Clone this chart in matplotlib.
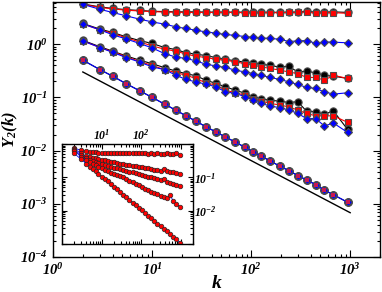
import numpy as np
import matplotlib
matplotlib.use('Agg')
import matplotlib.pyplot as plt
from matplotlib.ticker import FuncFormatter, LogLocator, NullFormatter

plt.rcParams['mathtext.fontset'] = 'custom'
plt.rcParams['mathtext.bf'] = 'Liberation Serif:bold:italic'
plt.rcParams['mathtext.rm'] = 'Liberation Serif:bold:italic'
plt.rcParams['mathtext.it'] = 'Liberation Serif:bold:italic'
plt.rcParams['font.family'] = 'Liberation Serif'

# main panel data
k = [2, 3, 4, 5.5, 7.5, 10, 13.5, 17.5, 22, 27.5, 35, 44, 55, 69, 87, 105,
     126, 155, 195, 240, 295, 363, 447, 550, 676, 940]

g1_black = [5.7, 5.0, 4.7, 4.45, 4.3, 4.15, 4.1, 4.05, 4.05, 4.05, 4.0, 4.0, 4.0,
            4.0, 4.0, 4.0, 3.95, 4.0, 3.95, 4.0, 4.0, 4.15, 4.0, 4.0, 4.05, 3.95]
g1_red = [5.6, 4.9, 4.6, 4.35, 4.2, 4.1, 4.0, 4.0, 3.95, 3.95, 3.95, 3.95, 3.95,
          3.95, 3.9, 3.9, 3.9, 3.9, 3.9, 3.95, 3.95, 4.05, 3.8, 3.9, 3.9, 3.8]
g1_blue = [5.6, 4.5, 3.94, 3.4, 2.95, 2.62, 2.37, 2.11, 1.97, 1.83, 1.70, 1.61, 1.52,
           1.46, 1.39, 1.34, 1.31, 1.28, 1.24, 1.12, 1.15, 1.17, 1.04, 1.10, 1.09, 1.06]

g2_black = [2.45, 1.91, 1.66, 1.37, 1.17, 1.03, 0.86, 0.79, 0.69, 0.65, 0.61, 0.56, 0.52,
            0.486, 0.46, 0.446, 0.42, 0.40, 0.37, 0.386, 0.30, 0.31, 0.29, 0.26, 0.25, 0.227]
g2_red = [2.4, 1.85, 1.6, 1.31, 1.1, 0.93, 0.8, 0.74, 0.65, 0.595, 0.56, 0.52, 0.50,
          0.466, 0.43, 0.40, 0.375, 0.35, 0.325, 0.30, 0.28, 0.237, 0.237, 0.21, 0.26, 0.227]
g2_blue = [2.4, 1.85, 1.5, 1.25, 1.03, 0.85, 0.66, 0.57, 0.54, 0.486, 0.42, 0.39, 0.365,
           0.325, 0.30, 0.28, 0.26, 0.237, 0.217, 0.196, 0.175, 0.154, 0.147, 0.127, 0.115, 0.122]

g3_black = [1.18, 0.89, 0.74, 0.60, 0.50, 0.43, 0.36, 0.31, 0.28, 0.255, 0.211, 0.183, 0.158,
            0.137, 0.119, 0.103, 0.095, 0.088, 0.085, 0.08, 0.083, 0.055, 0.054, 0.048, 0.056, 0.025]
g3_red = [1.15, 0.86, 0.72, 0.58, 0.47, 0.40, 0.33, 0.29, 0.262, 0.227, 0.188, 0.17, 0.137,
          0.122, 0.11, 0.095, 0.086, 0.077, 0.072, 0.066, 0.058, 0.05, 0.045, 0.045, 0.045, 0.034]
g3_blue = [1.15, 0.86, 0.70, 0.56, 0.46, 0.375, 0.33, 0.26, 0.217, 0.196, 0.177, 0.158, 0.127,
           0.119, 0.103, 0.089, 0.077, 0.069, 0.064, 0.058, 0.05, 0.04, 0.04, 0.029, 0.033, 0.022]

g4 = [0.50, 0.33, 0.25, 0.18, 0.133, 0.10, 0.074, 0.057, 0.045, 0.036, 0.028, 0.0225, 0.018,
      0.0145, 0.0115, 0.0095, 0.0079, 0.0064, 0.0051, 0.0042, 0.0034, 0.0028, 0.0023,
      0.0018, 0.00148, 0.00107]

ref_k = [2, 1000]
ref_y = [0.3, 0.00068]

# inset data
ik = [2, 3, 4, 5, 6, 7, 8, 10, 12, 14, 17, 20, 24, 29, 35, 42, 50, 60, 72, 86, 103,
      124, 148, 178, 213, 256, 307, 368, 442, 530, 636, 763, 960]
c1 = [0.75, 0.65, 0.60, 0.58, 0.57, 0.56, 0.555, 0.55, 0.545, 0.545, 0.54, 0.54, 0.535,
      0.535, 0.53, 0.53, 0.53, 0.525, 0.52, 0.53, 0.52, 0.52, 0.515, 0.52, 0.51, 0.52,
      0.5, 0.51, 0.53, 0.5, 0.51, 0.52, 0.48]
c2 = [0.72, 0.52, 0.44, 0.41, 0.39, 0.37, 0.355, 0.335, 0.32, 0.31, 0.295, 0.285, 0.27,
      0.26, 0.25, 0.24, 0.23, 0.22, 0.215, 0.205, 0.2, 0.19, 0.185, 0.175, 0.17, 0.165,
      0.16, 0.175, 0.15, 0.145, 0.14, 0.135, 0.125]
c3 = [0.68, 0.46, 0.38, 0.34, 0.31, 0.29, 0.275, 0.25, 0.235, 0.22, 0.205, 0.195, 0.185,
      0.177, 0.167, 0.157, 0.149, 0.141, 0.133, 0.126, 0.119, 0.112, 0.105, 0.099, 0.094,
      0.088, 0.083, 0.09, 0.072, 0.068, 0.063, 0.058, 0.055]
c4 = [0.62, 0.42, 0.33, 0.28, 0.25, 0.23, 0.21, 0.185, 0.165, 0.15, 0.135, 0.125, 0.115,
      0.11, 0.1, 0.09, 0.08, 0.072, 0.064, 0.057, 0.051, 0.046, 0.041, 0.037, 0.034,
      0.031, 0.028, 0.026, 0.024, 0.03, 0.02, 0.016, 0.013]
c5 = [0.52, 0.35, 0.26, 0.21, 0.175, 0.15, 0.13, 0.105, 0.088, 0.075, 0.062, 0.052, 0.044,
      0.036, 0.030, 0.025, 0.021, 0.0175, 0.0146, 0.0122, 0.0102, 0.0085, 0.0071, 0.0059,
      0.0049, 0.0041, 0.0034, 0.0029, 0.0024, 0.0020, 0.00165, 0.00138, 0.0011]


def pow10(v, pos):
    return r'$\mathbf{10^{%d}}$' % int(round(np.log10(v)))


def style_log_axis(ax, size):
    for axis in (ax.xaxis, ax.yaxis):
        axis.set_major_locator(LogLocator(base=10, numticks=20))
        axis.set_minor_locator(LogLocator(base=10, subs=np.arange(2, 10), numticks=20))
        axis.set_minor_formatter(NullFormatter())
    ax.tick_params(which='both', direction='in', top=True, right=True, width=0.8)
    ax.tick_params(which='major', length=5, labelsize=size)
    ax.tick_params(which='minor', length=2.5)
    for s in ax.spines.values():
        s.set_linewidth(1.0)


fig = plt.figure(figsize=(3.82, 2.92), dpi=100)
ax = fig.add_axes([53 / 382, 35 / 292, 327 / 382, 255 / 292])

ax.set_xscale('log')
ax.set_yscale('log')

mk = dict(mew=0.8, mec='0.3', lw=0.8)
for blk, red, blu in [(g1_black, g1_red, g1_blue), (g2_black, g2_red, g2_blue),
                      (g3_black, g3_red, g3_blue)]:
    ax.plot(k, blk, '-o', color='black', ms=5.2, **mk)
    ax.plot(k, red, '-s', color='red', ms=4.2, **mk)
    ax.plot(k, blu, '-D', color='blue', ms=3.8, **mk)

# bottom group: all three sets coincide
ax.plot(k, g4, '-o', color='black', ms=5.6, **mk)
ax.plot(k, g4, '-D', color='blue', ms=3.6, **mk)
ax.plot(k, g4, 's', color='#c81850', ms=3.2, mew=0)

ax.plot(ref_k, ref_y, color='black', lw=1.0)

ax.set_xlim(1, 2000)
ax.set_ylim(1e-4, 6.2)
style_log_axis(ax, 10.5)
ax.xaxis.set_major_formatter(FuncFormatter(pow10))
ax.yaxis.set_major_formatter(FuncFormatter(pow10))
ax.set_xlabel('k', fontsize=14, fontweight='bold', fontstyle='italic', labelpad=-2)
ax.set_ylabel(r'$\mathbf{Y_2(k)}$', fontsize=12, labelpad=0)

# inset
ins = fig.add_axes([62.3 / 382, 48 / 292, 130.4 / 382, 100 / 292])
ins.set_xscale('log')
ins.set_yscale('log')
for c in [c1, c2, c3, c4, c5]:
    ins.plot(ik, c, '-', color='blue', lw=0.6)
    ins.plot(ik, c, 'o', color='red', ms=3.3, mec='0.15', mew=0.5)
ins.set_xlim(1, 2000)
ins.set_ylim(1e-3, 1)
style_log_axis(ins, 8.5)
ins.tick_params(which='major', length=3.5)
ins.tick_params(which='minor', length=2)
ins.tick_params(labelbottom=False, labeltop=True, labelleft=False, labelright=True, pad=1)


def inset_x(v, pos):
    e = int(round(np.log10(v)))
    return pow10(v, pos) if e in (1, 2) else ''


def inset_y(v, pos):
    e = int(round(np.log10(v)))
    return pow10(v, pos) if e in (-1, -2) else ''


ins.xaxis.set_major_formatter(FuncFormatter(inset_x))
ins.yaxis.set_major_formatter(FuncFormatter(inset_y))

fig.savefig('out.png', dpi=100)
